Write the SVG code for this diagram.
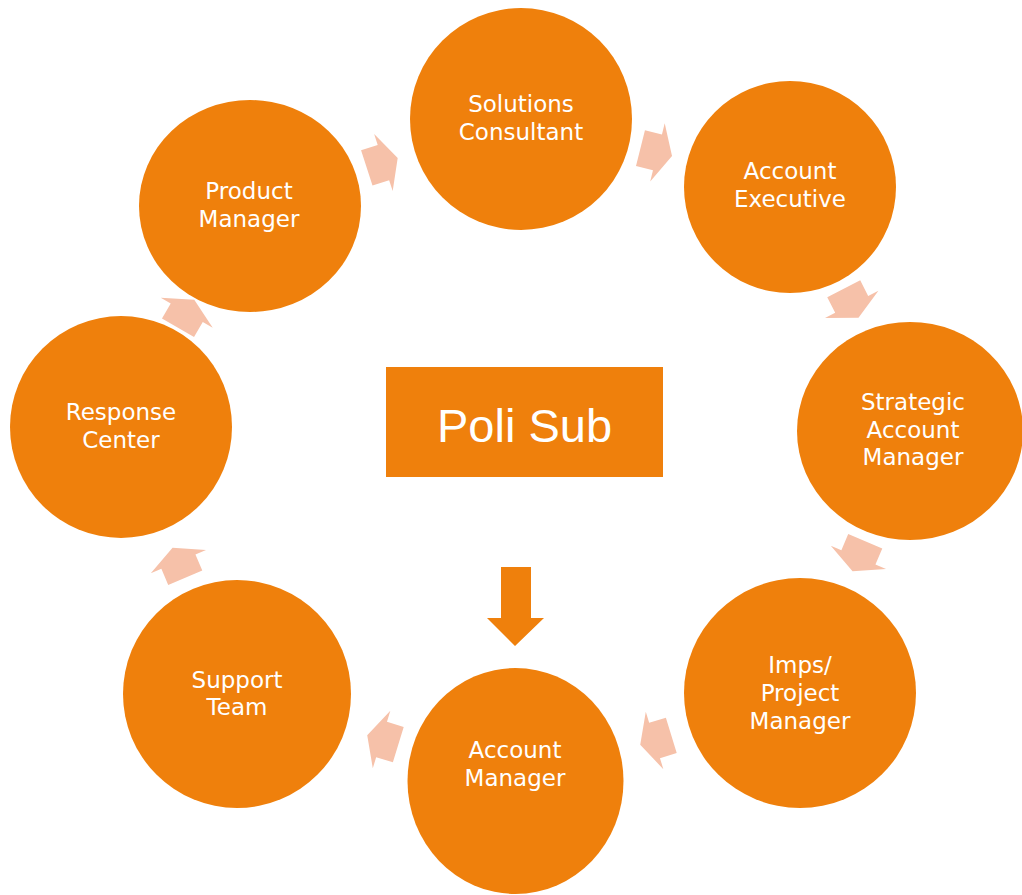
<svg xmlns="http://www.w3.org/2000/svg" width="1022" height="895" viewBox="0 0 1022 895">
<defs>
<style>
.node{fill:#EF800C;}
.lbl{fill:#FFFFFF;font-family:"DejaVu Sans","Noto Sans",sans-serif;font-size:23px;text-anchor:middle;}
.arr{fill:#F6C1A9;}
.title{fill:#FFFFFF;font-family:"Liberation Sans",Arial,sans-serif;font-size:47px;text-anchor:middle;}
</style>
<polygon id="ca" points="-16,-18.5 1.5,-18.5 1.5,-30 16.5,0 1.5,30 1.5,18.5 -16,18.5"/>
</defs>
<rect width="1022" height="895" fill="#FFFFFF"/>
<g id="connectors">
<use href="#ca" class="arr" transform="translate(382,163) rotate(-18)"/>
<use href="#ca" class="arr" transform="translate(656,152) rotate(14)"/>
<use href="#ca" class="arr" transform="translate(851,303) rotate(63)"/>
<use href="#ca" class="arr" transform="translate(859,556) rotate(113)"/>
<use href="#ca" class="arr" transform="translate(656,740) rotate(163)"/>
<use href="#ca" class="arr" transform="translate(383,740) rotate(-163)"/>
<use href="#ca" class="arr" transform="translate(179,563) rotate(-113)"/>
<use href="#ca" class="arr" transform="translate(186,314) rotate(-60)"/>
<polygon class="node" points="501,567 531,567 531,618 544,618 515,646 487,618 501,618"/>
</g>
<g id="center">
<rect class="node" x="386" y="367" width="277" height="110"/>
<text class="title" x="524.5" y="442">Poli Sub</text>
</g>
<g id="n-solutions">
<ellipse class="node" cx="521" cy="119" rx="111" ry="111"/>
<text class="lbl" x="521" y="112">Solutions</text>
<text class="lbl" x="521" y="140">Consultant</text>
</g>
<g id="n-ae">
<ellipse class="node" cx="790" cy="187" rx="106" ry="106"/>
<text class="lbl" x="790" y="179">Account</text>
<text class="lbl" x="790" y="207">Executive</text>
</g>
<g id="n-sam">
<ellipse class="node" cx="910" cy="431" rx="113" ry="109"/>
<text class="lbl" x="913" y="410">Strategic</text>
<text class="lbl" x="913" y="438">Account</text>
<text class="lbl" x="913" y="465">Manager</text>
</g>
<g id="n-imps">
<ellipse class="node" cx="800" cy="693" rx="116" ry="115"/>
<text class="lbl" x="800" y="673">Imps/</text>
<text class="lbl" x="800" y="701">Project</text>
<text class="lbl" x="800" y="729">Manager</text>
</g>
<g id="n-am">
<ellipse class="node" cx="515.5" cy="781" rx="108" ry="113"/>
<text class="lbl" x="515" y="758">Account</text>
<text class="lbl" x="515" y="786">Manager</text>
</g>
<g id="n-support">
<ellipse class="node" cx="237" cy="694" rx="114" ry="114"/>
<text class="lbl" x="237" y="688">Support</text>
<text class="lbl" x="237" y="715">Team</text>
</g>
<g id="n-response">
<ellipse class="node" cx="121" cy="427" rx="111" ry="111"/>
<text class="lbl" x="121" y="420">Response</text>
<text class="lbl" x="121" y="448">Center</text>
</g>
<g id="n-product">
<ellipse class="node" cx="250" cy="206" rx="111" ry="106"/>
<text class="lbl" x="249" y="199">Product</text>
<text class="lbl" x="249" y="227">Manager</text>
</g>
</svg>
